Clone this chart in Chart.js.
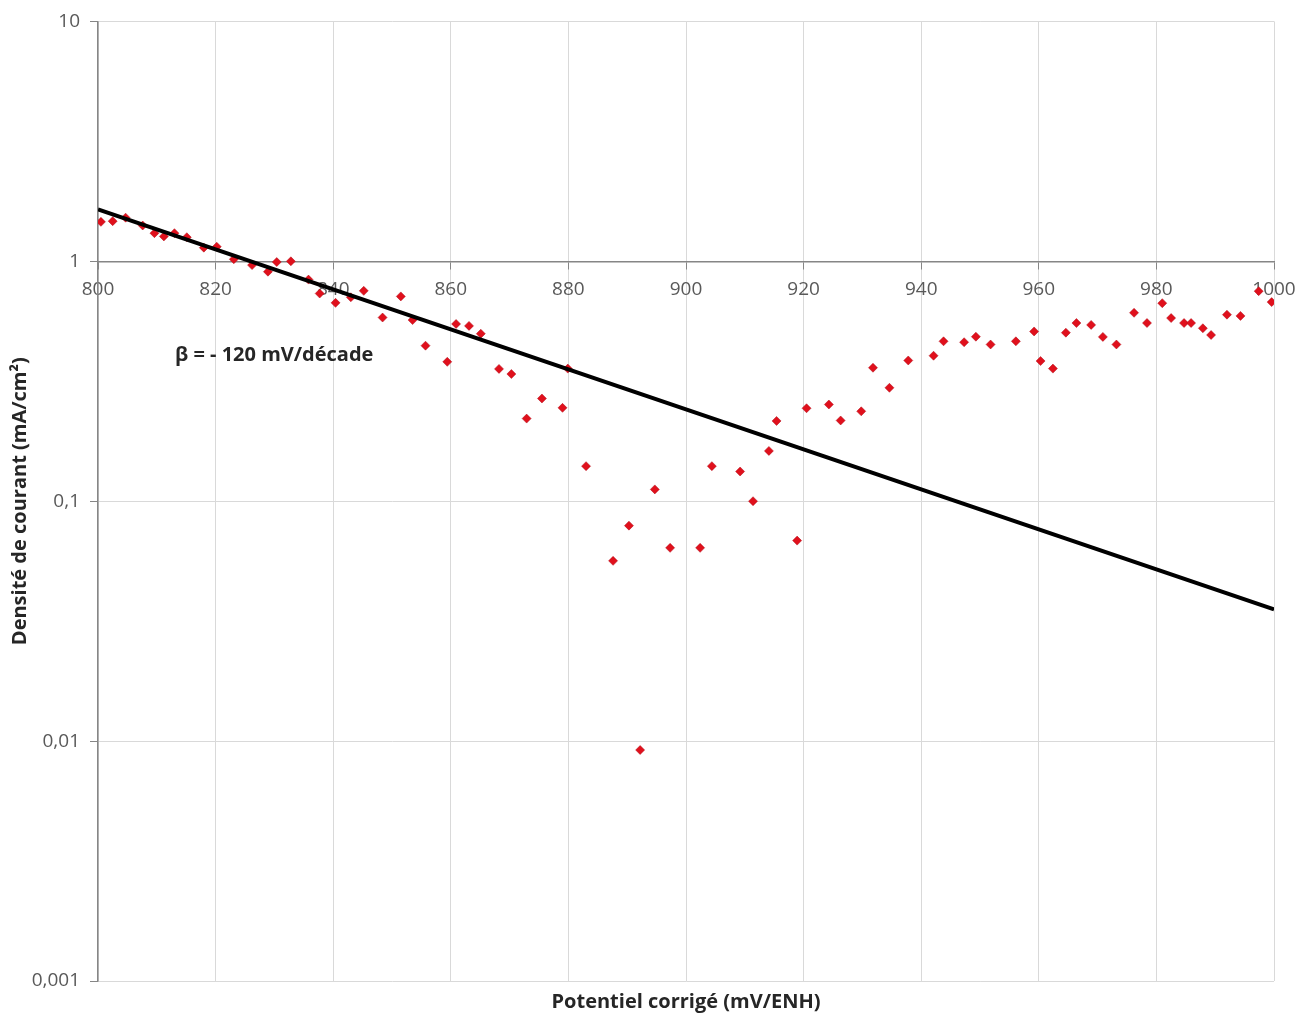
<!DOCTYPE html>
<html>
<head>
<meta charset="utf-8">
<script src="https://cdn.jsdelivr.net/npm/chart.js@4.4.1/dist/chart.umd.min.js"></script>
<style>
  html, body { margin: 0; padding: 0; background: #fff; }
  #wrap { width: 1314px; height: 1014px; position: relative; }
</style>
</head>
<body>
<div id="wrap"><canvas id="tafel"></canvas></div>
<script>
// Potentiel corrigé (mV/ENH)
const potentials = [
  800.5, 802.5, 804.7, 807.6, 809.6, 811.2, 813.0, 815.1, 818.0, 820.2,
  823.1, 826.2, 828.9, 830.4, 832.8, 835.8, 837.7, 840.4, 843.0, 845.2,
  848.4, 851.5, 853.5, 855.7, 859.4, 860.9, 863.1, 865.1, 868.2, 870.3,
  872.9, 875.5, 879.0, 879.9, 883.0, 887.6, 890.3, 892.2, 894.7, 897.3,
  902.4, 904.4, 909.2, 911.4, 914.1, 915.4, 918.9, 920.5, 924.3, 926.3,
  929.8, 931.8, 934.6, 937.8, 942.1, 943.8, 947.3, 949.3, 951.8, 956.1,
  959.2, 960.3, 962.4, 964.6, 966.4, 968.9, 970.9, 973.2, 976.2, 978.4,
  981.0, 982.5, 984.7, 985.9, 987.9, 989.3, 992.0, 994.3, 997.4, 999.6
];
// Densité de courant (mA/cm²)
const densities = [
  1.46, 1.47, 1.52, 1.41, 1.31, 1.27, 1.31, 1.26, 1.14, 1.15,
  1.02, 0.964, 0.905, 0.993, 1.0, 0.839, 0.734, 0.671, 0.708, 0.753,
  0.583, 0.714, 0.569, 0.445, 0.381, 0.548, 0.538, 0.499, 0.356, 0.339,
  0.221, 0.268, 0.245, 0.357, 0.140, 0.0564, 0.0791, 0.00918, 0.112, 0.0639,
  0.0639, 0.140, 0.133, 0.100, 0.162, 0.216, 0.0685, 0.244, 0.253, 0.217,
  0.237, 0.360, 0.297, 0.386, 0.404, 0.464, 0.460, 0.485, 0.450, 0.464,
  0.510, 0.384, 0.357, 0.504, 0.553, 0.543, 0.484, 0.450, 0.610, 0.553,
  0.669, 0.580, 0.553, 0.553, 0.526, 0.493, 0.599, 0.592, 0.751, 0.676
];
// droite de Tafel (β = -120 mV/décade)
const fitPotentials = [800, 1000];
const fitDensities = [1.644, 0.0354];

const xTicks = [800, 820, 840, 860, 880, 900, 920, 940, 960, 980, 1000];
const yTicks = [0.001, 0.01, 0.1, 1, 10];
const yTickLabels = ['0,001', '0,01', '0,1', '1', '10'];

const annotationText = 'β = - 120 mV/décade';
const annotationAt = { x: 813.1, y: 0.407 };

const gridColor = '#d9d9d9';
const axisColor = '#868686';
const labelColor = '#595959';
const fontFamily = "'Open Sans', 'Liberation Sans', sans-serif";

const annotationPlugin = {
  id: 'betaLabel',
  afterDatasetsDraw(chart) {
    const { ctx, scales } = chart;
    const px = scales.x.getPixelForValue(annotationAt.x);
    const py = scales.y.getPixelForValue(annotationAt.y);
    ctx.save();
    ctx.font = 'bold 20px ' + fontFamily;
    ctx.fillStyle = '#262626';
    ctx.textAlign = 'left';
    ctx.textBaseline = 'middle';
    ctx.fillText(annotationText, px, py);
    ctx.restore();
  }
};

const ctx = document.getElementById('tafel').getContext('2d');
new Chart(ctx, {
  data: {
    datasets: [
      {
        type: 'scatter',
        label: 'Mesures',
        data: potentials.map((p, i) => ({ x: p, y: densities[i] })),
        pointStyle: 'rectRot',
        pointRadius: 4.5,
        pointHoverRadius: 4.5,
        backgroundColor: '#e0101c',
        borderColor: '#b00d18',
        borderWidth: 0.5,
        order: 2
      },
      {
        type: 'line',
        label: 'Tafel',
        data: fitPotentials.map((p, i) => ({ x: p, y: fitDensities[i] })),
        borderColor: '#000',
        borderWidth: 4,
        pointRadius: 0,
        fill: false,
        order: 1
      }
    ]
  },
  options: {
    responsive: true,
    maintainAspectRatio: false,
    animation: false,
    layout: { padding: { top: 18, right: 40, left: 0, bottom: 0 } },
    plugins: {
      legend: { display: false },
      tooltip: { enabled: false }
    },
    scales: {
      x: {
        type: 'linear',
        min: 800,
        max: 1000,
        position: { y: 1 },
        afterBuildTicks: scale => { scale.ticks = xTicks.map(v => ({ value: v })); },
        ticks: {
          color: labelColor,
          font: { family: fontFamily, size: 19 },
          padding: 10,
          maxRotation: 0,
          callback: value => String(value)
        },
        grid: { color: gridColor, tickColor: axisColor, tickLength: 7 },
        border: { color: axisColor, width: 1.5 }
      },
      xTitle: {
        type: 'linear',
        axis: 'x',
        min: 800,
        max: 1000,
        position: 'bottom',
        ticks: { display: false },
        grid: { display: false, drawTicks: false },
        border: { display: false },
        title: {
          display: true,
          text: 'Potentiel corrigé (mV/ENH)',
          color: '#262626',
          font: { family: fontFamily, size: 20, weight: 'bold' },
          padding: { top: 2, bottom: 0 }
        },
        afterFit: scale => { scale.height = 33; }
      },
      y: {
        type: 'logarithmic',
        min: 0.001,
        max: 10,
        afterBuildTicks: scale => { scale.ticks = yTicks.map(v => ({ value: v })); },
        ticks: {
          color: labelColor,
          font: { family: fontFamily, size: 19 },
          padding: 10,
          callback: value => yTickLabels[yTicks.indexOf(value)] ?? ''
        },
        grid: { color: gridColor, tickColor: axisColor, tickLength: 8 },
        border: { color: axisColor, width: 1.5 },
        title: {
          display: true,
          text: 'Densité de courant (mA/cm²)',
          color: '#262626',
          font: { family: fontFamily, size: 20, weight: 'bold' },
          padding: { top: 8, bottom: 0 }
        },
        afterFit: scale => { scale.width = 98; }
      }
    }
  },
  plugins: [annotationPlugin]
});
</script>
</body>
</html>
